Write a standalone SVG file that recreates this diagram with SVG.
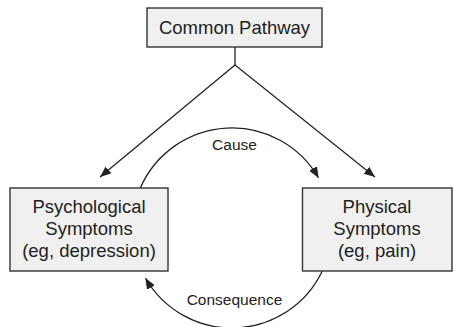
<svg xmlns="http://www.w3.org/2000/svg" width="454" height="327" viewBox="0 0 454 327">
<style>
.box{fill:#f0f0f0;stroke:#333;stroke-width:1.4}
.t{font-family:"Liberation Sans",Arial,sans-serif;font-size:18.5px;fill:#222;text-anchor:middle}
.s{font-family:"Liberation Sans",Arial,sans-serif;font-size:15.5px;fill:#222;text-anchor:middle}
.ln{fill:none;stroke:#222;stroke-width:1.3}
</style>
<defs>
<marker id="ah" markerUnits="userSpaceOnUse" markerWidth="12" markerHeight="10" refX="11" refY="4.5" orient="auto">
<path d="M0,0 L11,4.5 L0,9 Z" fill="#222"/>
</marker>
</defs>
<g id="connectors">
<path class="ln" d="M235,47 L235,65"/>
<path class="ln" d="M235,65 L100,177" marker-end="url(#ah)"/>
<path class="ln" d="M235,65 L375,177" marker-end="url(#ah)"/>
<path class="ln" d="M140.3,188 A100,100 0 0 1 318.6,178" marker-end="url(#ah)"/>
<path class="ln" d="M322.3,271 A100,100 0 0 1 145.4,278" marker-end="url(#ah)"/>
<text class="s" x="234.5" y="150">Cause</text>
<text class="s" x="234.5" y="305">Consequence</text>
</g>
<g id="common">
<rect class="box" x="147" y="8" width="175" height="39"/>
<text class="t" x="234.5" y="34">Common Pathway</text>
</g>
<g id="psych">
<rect class="box" x="10" y="188" width="158" height="83"/>
<text class="t" x="89" y="213">Psychological</text>
<text class="t" x="89" y="235">Symptoms</text>
<text class="t" x="89" y="257">(eg, depression)</text>
</g>
<g id="phys">
<rect class="box" x="302.5" y="188" width="149.5" height="83"/>
<text class="t" x="377" y="213">Physical</text>
<text class="t" x="377" y="235">Symptoms</text>
<text class="t" x="377" y="257">(eg, pain)</text>
</g>
</svg>
